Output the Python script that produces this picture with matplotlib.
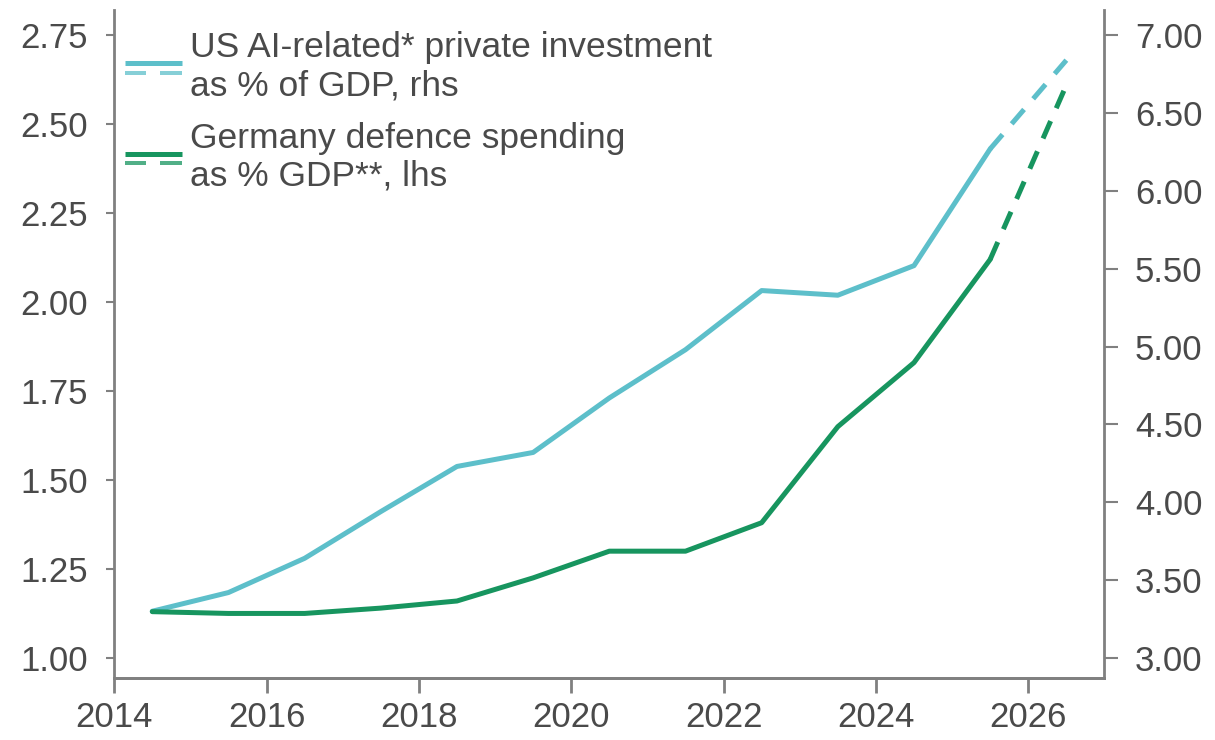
import matplotlib.pyplot as plt
from matplotlib.lines import Line2D
from matplotlib.legend_handler import HandlerBase

# data (annual points, plotted mid-year)
years = [2014.5, 2015.5, 2016.5, 2017.5, 2018.5, 2019.5, 2020.5,
         2021.5, 2022.5, 2023.5, 2024.5, 2025.5, 2026.5]
germany_defence = [1.13, 1.125, 1.125, 1.14, 1.16, 1.225, 1.30,
                   1.30, 1.38, 1.65, 1.83, 2.12, 2.61]
us_ai_invest = [3.30, 3.42, 3.64, 3.94, 4.23, 4.32, 4.67,
                4.98, 5.36, 5.33, 5.52, 6.27, 6.84]
n_actual = 12  # last point is a forecast (dashed)

left_ticks = [1.00, 1.25, 1.50, 1.75, 2.00, 2.25, 2.50, 2.75]
right_ticks = [3.00, 3.50, 4.00, 4.50, 5.00, 5.50, 6.00, 6.50, 7.00]
x_ticks = [2014, 2016, 2018, 2020, 2022, 2024, 2026]

label_us = 'US AI-related* private investment\nas % of GDP, rhs'
label_de = 'Germany defence spending\nas % GDP**, lhs'

blue = '#5dbfca'
green = '#17955f'
grey = '#808080'
text_col = '#4a4a4a'
lw = 3.6
dash = (0, (3.8, 2.8))
fs = 25

plt.rcParams['font.family'] = ['Liberation Sans', 'DejaVu Sans']


class SolidDashHandler(HandlerBase):
    # legend key: solid line with a dashed line underneath
    def create_artists(self, legend, orig_handle, xdescent, ydescent,
                       width, height, fontsize, trans):
        c = orig_handle.get_color()
        y0 = height / 2 - ydescent
        top = Line2D([-xdescent, width - xdescent], [y0 + 3, y0 + 3],
                     color=c, lw=lw, solid_capstyle='butt', transform=trans)
        seg = width * 0.38
        b1 = Line2D([-xdescent, -xdescent + seg], [y0 - 4, y0 - 4],
                    color=c, lw=lw * 0.8, alpha=0.75, solid_capstyle='butt',
                    transform=trans)
        b2 = Line2D([width - xdescent - seg, width - xdescent], [y0 - 4, y0 - 4],
                    color=c, lw=lw * 0.8, alpha=0.75, solid_capstyle='butt',
                    transform=trans)
        return [top, b1, b2]


fig, ax = plt.subplots(figsize=(12.15, 7.4), dpi=100)
fig.subplots_adjust(left=0.094, right=0.909, bottom=0.084, top=0.986)
ax2 = ax.twinx()

# Germany on left axis
ax.plot(years[:n_actual], germany_defence[:n_actual], color=green, lw=lw,
        solid_capstyle='round', zorder=3)
ax.plot(years[n_actual - 1:], germany_defence[n_actual - 1:], color=green,
        lw=lw, linestyle=dash, zorder=3)

# US AI on right axis
ax2.plot(years[:n_actual], us_ai_invest[:n_actual], color=blue, lw=lw,
         solid_capstyle='round', zorder=2)
ax2.plot(years[n_actual - 1:], us_ai_invest[n_actual - 1:], color=blue,
         lw=lw, linestyle=dash, zorder=2)

# keep both axes aligned: lhs 1.00 <-> rhs 3.00, lhs 2.75 <-> rhs 7.00
lo, hi = 0.944, 2.82
ax.set_ylim(lo, hi)
ax2.set_ylim(3 + (lo - 1) * 4 / 1.75, 3 + (hi - 1) * 4 / 1.75)
ax.set_xlim(2014, 2027)

ax.set_xticks(x_ticks)
ax.set_yticks(left_ticks)
ax.set_yticklabels(['%.2f' % v for v in left_ticks])
ax2.set_yticks(right_ticks)
ax2.set_yticklabels(['%.2f' % v for v in right_ticks])

for a in (ax, ax2):
    for s in a.spines.values():
        s.set_color(grey)
        s.set_linewidth(2)
    a.spines['top'].set_visible(False)
    a.tick_params(colors=grey, labelcolor=text_col, labelsize=fs, width=1.5)

ax2.spines['left'].set_visible(False)
ax.spines['right'].set_visible(False)
ax.tick_params(axis='y', length=6, pad=13)
ax2.tick_params(axis='y', length=10, pad=12)
ax.tick_params(axis='x', length=11, pad=6, width=2)

handles = [Line2D([], [], color=blue), Line2D([], [], color=green)]
leg = ax.legend(handles, [label_us, label_de],
                handler_map={Line2D: SolidDashHandler()},
                loc='upper left', bbox_to_anchor=(0.0, 0.985), frameon=False,
                fontsize=25.5, handlelength=1.6, handletextpad=0.25,
                labelspacing=0.55, borderaxespad=0.0, borderpad=0.3)
for t in leg.get_texts():
    t.set_color(text_col)
ax.set_zorder(ax2.get_zorder() + 1)
ax.patch.set_visible(False)

fig.savefig('out.png', dpi=100)
